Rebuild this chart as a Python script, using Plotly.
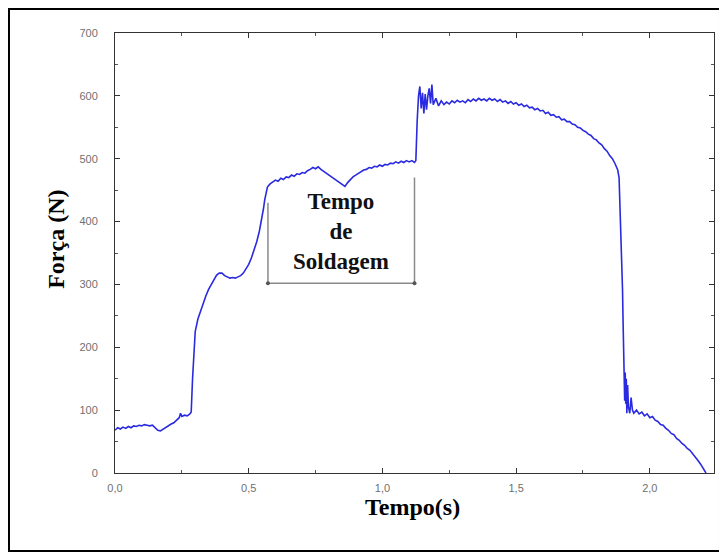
import plotly.graph_objects as go

# ---- data ----
tempo = [0.00, 0.01, 0.02, 0.03, 0.04, 0.05, 0.06, 0.07, 0.08, 0.09, 0.10, 0.11, 0.12, 0.13, 0.14,
         0.15, 0.16, 0.17, 0.18, 0.19, 0.20, 0.21, 0.22, 0.23, 0.24, 0.245, 0.25, 0.26, 0.27, 0.28,
         0.285, 0.29, 0.295, 0.30, 0.31, 0.32, 0.33, 0.34, 0.35, 0.36, 0.37, 0.38, 0.39, 0.40, 0.41,
         0.42, 0.43, 0.44, 0.45, 0.46, 0.47, 0.48, 0.49, 0.50, 0.51, 0.52, 0.53, 0.54, 0.55, 0.555,
         0.56, 0.565, 0.57, 0.58, 0.59,
         0.60, 0.61, 0.62, 0.63, 0.64, 0.65, 0.66, 0.67, 0.68, 0.69, 0.70, 0.71, 0.72, 0.73, 0.74,
         0.75, 0.76, 0.77, 0.78, 0.79, 0.80, 0.81, 0.82, 0.83, 0.84, 0.85, 0.86, 0.87, 0.88, 0.89,
         0.90, 0.91, 0.92, 0.93, 0.94, 0.95, 0.96, 0.97, 0.98, 0.99, 1.00, 1.01, 1.02, 1.03, 1.04,
         1.05, 1.06, 1.07, 1.08, 1.09, 1.10, 1.11, 1.12, 1.125,
         1.13, 1.135, 1.14, 1.145, 1.15, 1.155, 1.16, 1.165, 1.17, 1.175, 1.18, 1.185, 1.19,
         1.20, 1.21, 1.22, 1.23, 1.24, 1.25, 1.26, 1.27, 1.28, 1.29, 1.30, 1.31, 1.32, 1.33, 1.34,
         1.35, 1.36, 1.37, 1.38, 1.39, 1.40, 1.41, 1.42, 1.43, 1.44, 1.45, 1.46, 1.47, 1.48, 1.49,
         1.50, 1.51, 1.52, 1.53, 1.54, 1.55, 1.56, 1.57, 1.58, 1.59, 1.60, 1.61, 1.62, 1.63, 1.64,
         1.65, 1.66, 1.67, 1.68, 1.69, 1.70, 1.71, 1.72, 1.73, 1.74, 1.75, 1.76, 1.77, 1.78, 1.79,
         1.80, 1.81, 1.82, 1.83, 1.84, 1.85, 1.86, 1.87, 1.88, 1.885,
         1.888, 1.89, 1.891, 1.892, 1.893, 1.895, 1.896, 1.897, 1.898, 1.90, 1.903, 1.906, 1.908,
         1.910, 1.912, 1.914, 1.917, 1.92, 1.925, 1.93, 1.935, 1.94, 1.95, 1.96, 1.97, 1.98, 1.99,
         2.00, 2.01, 2.02, 2.03, 2.04, 2.05, 2.06, 2.07, 2.08, 2.09, 2.10, 2.11, 2.12, 2.13, 2.14,
         2.15, 2.16, 2.17, 2.18, 2.19, 2.20, 2.21]
forca = [68, 72, 70, 73, 71, 74, 72, 75, 74, 76, 75, 77, 76, 75, 76,
         72, 68, 67, 70, 73, 75, 78, 80, 84, 88, 95, 90, 92, 91, 94,
         97, 150, 200, 225, 245, 258, 270, 282, 292, 300, 308, 315, 318, 318, 314,
         312, 310, 311, 310, 312, 314, 318, 324, 332, 342, 355, 368, 385, 405, 420,
         435, 447, 455, 460, 463,
         466, 464, 469, 467, 471, 470, 474, 472, 476, 475, 478, 477, 481, 483, 486,
         484, 487, 483, 480, 476, 474, 470, 467, 464, 461, 458, 456, 462, 467, 471,
         474, 477, 479, 482, 483, 486, 485, 488, 487, 490, 488, 491, 490, 493, 492,
         495, 493, 496, 494, 497, 495, 497, 494, 497,
         560, 600, 615, 580, 605, 572, 603, 578, 600, 612, 588, 618, 586,
         596, 584, 592, 586, 590, 587, 592, 589, 593, 590, 592, 589, 594, 591, 595,
         592, 596, 593, 595, 592, 596, 593, 595, 591, 594, 590, 592, 588, 591, 587,
         589, 585, 587, 583, 585, 581, 582, 578, 580, 576, 577, 572, 574, 569, 570,
         566, 567, 562, 563, 559, 559, 555, 554, 550, 549, 545, 543, 539, 537, 532,
         530, 525, 522, 516, 512, 505, 500, 492, 482, 470,
         430, 390, 370, 385, 360, 330, 300, 320, 290, 240, 170, 115, 160,
         110, 150, 95, 140, 105, 95, 120, 100, 95, 100, 94, 97, 91, 94,
         88, 90, 84, 82, 77, 76, 71, 68, 63, 61, 55, 52, 47, 44, 39,
         36, 31, 26, 20, 14, 7, 0]

x_ticks = [0.0, 0.5, 1.0, 1.5, 2.0]
x_tick_labels = ["0,0", "0,5", "1,0", "1,5", "2,0"]
y_ticks = [0, 100, 200, 300, 400, 500, 600, 700]

# bracket marking the welding time
bracket_t = [0.572, 0.572, 1.12, 1.12]
bracket_f = [430, 302, 302, 470]
label_text = "Tempo<br>de<br>Soldagem"

fig = go.Figure()
fig.add_trace(go.Scatter(x=tempo, y=forca, mode="lines",
                         line=dict(color="#2a2ae0", width=1.6), showlegend=False))
fig.add_trace(go.Scatter(x=bracket_t, y=bracket_f, mode="lines",
                         line=dict(color="#8a8a8a", width=1.5), showlegend=False))
fig.add_trace(go.Scatter(x=bracket_t[1:3], y=bracket_f[1:3], mode="markers",
                         marker=dict(color="#555555", size=4), showlegend=False))

axis_common = dict(showline=True, linecolor="#333333", linewidth=1, mirror="ticks",
                   ticks="inside", ticklen=5, tickcolor="#333333", showgrid=False,
                   zeroline=False, tickfont=dict(family="Liberation Sans", size=11, color="#707070"))

fig.update_xaxes(range=[0, 2.24], tickvals=x_ticks, ticktext=x_tick_labels,
                 ticklabelstandoff=5,
                 minor=dict(dtick=0.25, ticks="inside", ticklen=3, tickcolor="#555555"),
                 **axis_common)
fig.update_yaxes(range=[0, 700], tickvals=y_ticks, ticklabelstandoff=14,
                 minor=dict(dtick=50, ticks="inside", ticklen=3, tickcolor="#555555"),
                 **axis_common)

serif = "Liberation Serif"
fig.add_annotation(text="<b>Tempo(s)</b>", xref="paper", yref="paper", x=0.497, y=-0.111,
                   showarrow=False, font=dict(family=serif, size=24, color="black"))
fig.add_annotation(text="<b>Força (N)</b>", xref="paper", yref="paper", x=-0.1235, y=0.53,
                   textangle=-90, showarrow=False, font=dict(family=serif, size=24, color="black"))
fig.add_annotation(text="<b>" + label_text + "</b>", x=0.846, y=384, xref="x", yref="y",
                   showarrow=False, font=dict(family=serif, size=23, color="#111111"),
                   align="center")

# outer frame
fig.add_shape(type="rect", xref="paper", yref="paper", x0=-0.177, x1=1.010, y0=-0.177, y1=1.0545,
              line=dict(color="black", width=2), fillcolor="rgba(0,0,0,0)")

fig.update_layout(width=719, height=545, margin=dict(l=107, r=13, t=25, b=80),
                  paper_bgcolor="white", plot_bgcolor="white")
fig.write_html("out.html")
